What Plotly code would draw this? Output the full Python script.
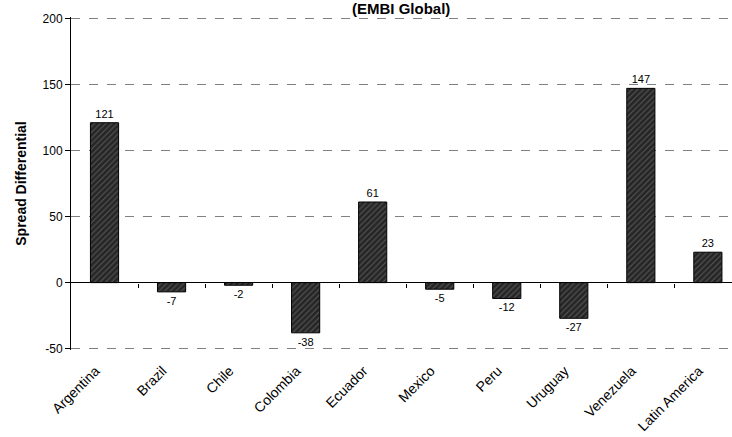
import plotly.graph_objects as go

categories = ["Argentina", "Brazil", "Chile", "Colombia", "Ecuador", "Mexico",
              "Peru", "Uruguay", "Venezuela", "Latin America"]
values = [121, -7, -2, -38, 61, -5, -12, -27, 147, 23]
y_ticks = [-50, 0, 50, 100, 150, 200]
y_tick_labels = ["-50", "0", "50", "100", "150", "200"]

fig = go.Figure()
fig.add_trace(go.Bar(
    x=list(range(len(categories))), y=values,
    text=[str(v) for v in values], textposition="outside",
    textfont=dict(family="Arial, Liberation Sans", size=11, color="black"),
    cliponaxis=False,
    marker=dict(color="#262626", line=dict(color="black", width=1),
                pattern=dict(shape="/", fgcolor="#8a8a8a", size=4, solidity=0.25)),
    width=0.42, showlegend=False,
))
# invisible trace for the axis that carries tick marks on the zero line
fig.add_trace(go.Scatter(x=[0, 9], y=[0, 0], xaxis="x2", mode="none",
                         showlegend=False, hoverinfo="skip"))

fig.update_layout(
    width=732, height=437,
    margin=dict(l=71, r=0, t=17, b=87, autoexpand=False),
    plot_bgcolor="white", paper_bgcolor="white",
    font=dict(family="Arial, Liberation Sans", color="black"),
    xaxis=dict(range=[-0.5, 9.36], tickvals=list(range(len(categories))),
               ticktext=categories, tickangle=-45, showgrid=False,
               showline=False, zeroline=False, ticks="", automargin=False,
               ticklabelstandoff=9, ticklabelshift=-9,
               tickfont=dict(size=14, color="black")),
    xaxis2=dict(overlaying="x", anchor="free", position=1 / 252 * 51,
                range=[-0.5, 9.36], tickvals=[i + 0.5 for i in range(9)],
                showticklabels=False, ticks="outside", ticklen=4,
                tickcolor="black", showline=False, showgrid=False,
                zeroline=False, automargin=False),
    yaxis=dict(range=[-51, 201], tickvals=y_ticks, ticktext=y_tick_labels,
               showline=True,
               linecolor="black", linewidth=1, ticks="outside", ticklen=5,
               tickcolor="black", showgrid=True, gridcolor="#808080",
               griddash="dash", gridwidth=1, zeroline=True,
               zerolinecolor="black", zerolinewidth=1, automargin=False,
               tickfont=dict(size=12, color="black"),
               title=dict(text="<b>Spread Differential</b>",
                          font=dict(size=14, color="black"), standoff=12)),
    annotations=[dict(text="<b>(EMBI Global)</b>", xref="paper", yref="paper",
                      x=(401 - 71) / 661, y=1 + 19 / 333, xanchor="center",
                      yanchor="top", showarrow=False,
                      font=dict(size=15, color="black"))],
    bargap=0.58,
)

fig.write_html("out.html", config={"displayModeBar": False},
               post_script="document.body.style.margin='0';")
